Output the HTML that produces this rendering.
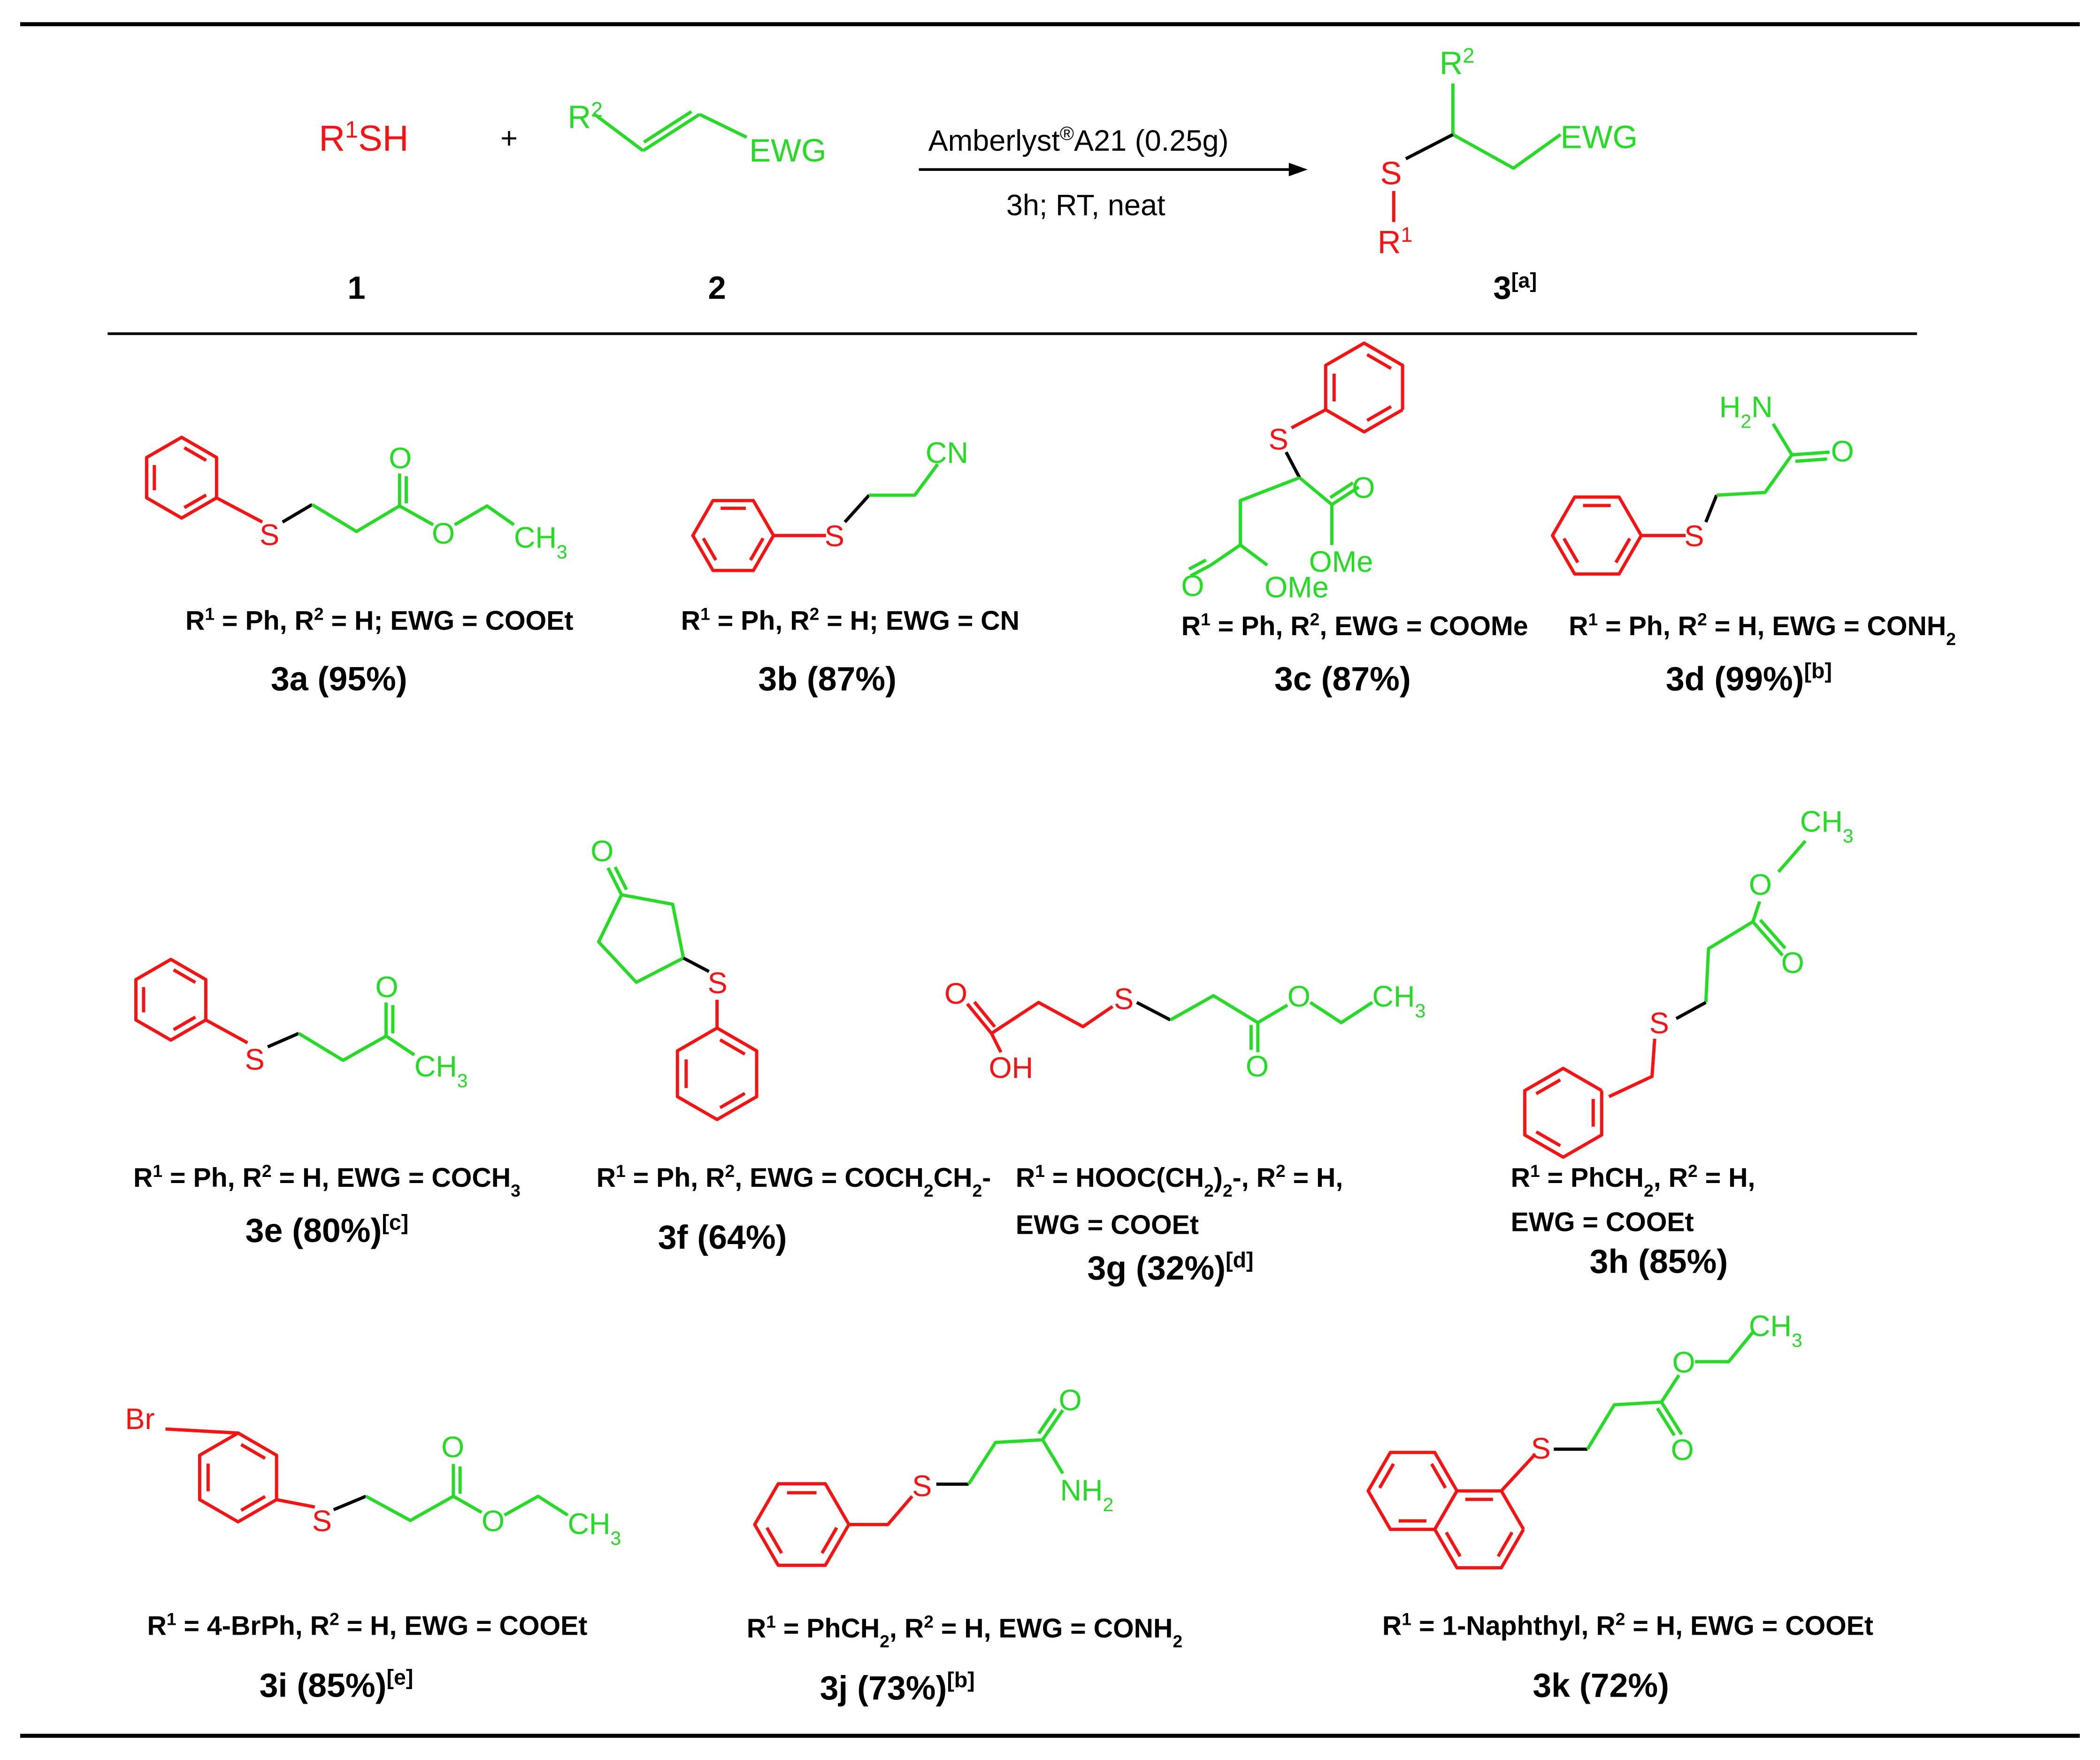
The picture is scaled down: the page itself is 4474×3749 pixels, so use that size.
<!DOCTYPE html>
<html><head><meta charset="utf-8"><style>
html,body{margin:0;padding:0;background:#fff;}
svg{display:block;}
text{font-family:"Liberation Sans",sans-serif;}
</style></head><body>
<svg id="s" xmlns="http://www.w3.org/2000/svg" width="4474" height="3749" viewBox="0 0 1561 1308" preserveAspectRatio="none"></svg>
<script>
const S=document.getElementById('s');
const R='#ff1010',G='#22dd22',K='#000';
let out='';
function L(pts,c,w){out+=`<polyline points="${pts.map(p=>p.join(',')).join(' ')}" fill="none" stroke="${c}" stroke-width="${w||2.4}" stroke-linejoin="round"/>`;}
function D(a,b,c,side){
  L([a,b],c);
  const dx=b[0]-a[0],dy=b[1]-a[1],len=Math.hypot(dx,dy);
  const nx=-dy/len*5*(side||1),ny=dx/len*5*(side||1);
  L([[a[0]+nx+dx*0.08,a[1]+ny+dy*0.08],[b[0]+nx-dx*0.08,b[1]+ny-dy*0.08]],c);}
function T(x,y,s,c,sz,anc,wt){out+=`<text x="${x}" y="${y}" fill="${c||K}" font-size="${sz||22}" text-anchor="${anc||'start'}" font-weight="${wt||'normal'}">${s}</text>`;}
function sup(s){return `<tspan baseline-shift="super" font-size="65%">${s}</tspan>`;}
function sub(s){return `<tspan baseline-shift="sub" font-size="65%">${s}</tspan>`;}
function ring(cx,cy,r,rot,c,d){
  const v=[];for(let k=0;k<6;k++){const a=(rot+60*k)*Math.PI/180;v.push([cx+r*Math.cos(a),cy+r*Math.sin(a)]);}
  L([...v,v[0]],c);
  (d||[0,2,4]).forEach(i=>{const a=v[i],b=v[(i+1)%6];const f=0.78;
    const p=[cx+(a[0]-cx)*f,cy+(a[1]-cy)*f],q=[cx+(b[0]-cx)*f,cy+(b[1]-cy)*f];
    L([[p[0]+(q[0]-p[0])*0.1,p[1]+(q[1]-p[1])*0.1],[q[0]-(q[0]-p[0])*0.1,q[1]-(q[1]-p[1])*0.1]],c);});
  return v;}
L([[15,18],[1546,18]],K,3);L([[80,248],[1425,248]],K,2);L([[15,1290],[1546,1290]],K,3);
T(237,112,'R'+sup('1')+'SH',R,27);
T(372,110,'+',K,22);
T(422,95,'R'+sup('2'),G,24);
L([[442,85],[478,112]],G);D([478,112],[520,85],G,-1);L([[520,85],[555,102]],G);
T(557,120,'EWG',G,24);
T(265,222,'1',K,24,'middle','bold');T(533,222,'2',K,24,'middle','bold');
L([[683,126],[962,126]],K,2);out+=`<polygon points="972,126,958,121,958,131" fill="#000"/>`;
T(690,112,'Amberlyst'+sup('®')+'A21 (0.25g)',K,22);
T(748,160,'3h; RT, neat',K,22);
T(1070,55,'R'+sup('2'),G,24);
L([[1080,62],[1080,100]],G);L([[1080,100],[1125,125],[1160,100]],G);T(1160,110,'EWG',G,24);
L([[1080,100],[1045,118]],K);T(1026,137,'S',R,24);L([[1036,142],[1036,165]],R);T(1024,188,'R'+sup('1'),R,24);
T(1110,222,'3'+sup('[a]'),K,24,'start','bold');
// 3a
let v=ring(135,355,30,30,R);
L([v[0],[195,388]],R);T(193,405,'S',R,22);L([[210,388],[232,375]],K);
L([[232,375],[265,395],[297,376]],G);D([297,376],[297,352],G);T(289,348,'O',G,22);
L([[297,376],[322,390]],G);T(321,404,'O',G,22);L([[338,390],[362,376],[382,390]],G);T(382,407,'CH'+sub('3'),G,22);
// 3b
v=ring(545,398,30,0,R);
L([v[0],[614,398]],R);T(613,406,'S',R,22);L([[628,388],[646,368]],K);
L([[646,368],[680,368],[697,345]],G);T(688,344,'CN',G,22);
// 3c
v=ring(1014,288,33,30,R);
T(943,334,'S',R,22);L([[960,318],v[2]],R);L([[956,336],[966,355]],K);
L([[966,355],[922,372],[922,405],[900,420]],G);D([900,420],[885,428],G);T(878,443,'O',G,22);L([[922,405],[942,420]],G);T(940,444,'OMe',G,22);
L([[966,355],[990,375]],G);D([990,375],[1010,362],G,-1);T(1005,370,'O',G,22);L([[990,375],[990,405]],G);T(973,425,'OMe',G,22);
// 3d
v=ring(1187,398,33,0,R);
L([v[0],[1253,398]],R);T(1252,406,'S',R,22);L([[1268,388],[1276,368]],K);
L([[1276,368],[1312,366],[1332,338]],G);D([1332,338],[1360,336],G);T(1361,343,'O',G,22);L([[1332,338],[1318,315]],G);
T(1278,310,'H'+sub('2')+'N',G,22);
// 3e
v=ring(127,743,30,30,R);
L([v[0],[184,775]],R);T(182,795,'S',R,22);L([[199,778],[222,768]],K);
L([[222,768],[255,788],[287,770]],G);D([287,770],[287,745],G);T(279,741,'O',G,22);L([[287,770],[308,784]],G);T(308,800,'CH'+sub('3'),G,22);
// 3f
L([[462,665],[445,700],[473,730],[508,712],[500,672],[462,665]],G);D([462,665],[452,645],G);T(439,640,'O',G,22);
L([[508,712],[527,722]],K);T(526,738,'S',R,22);
v=ring(533,798,34,-90,R);L([[533,743],v[0]],R);
// 3g
T(702,746,'O',R,22);T(735,801,'OH',R,22);
D([737,768],[719,746],R);L([[737,768],[744,782]],R);L([[737,768],[772,745],[805,763],[827,748]],R);
T(828,750,'S',R,22);L([[845,745],[870,758]],K);
L([[870,758],[902,740],[935,760]],G);D([935,760],[935,782],G);T(926,800,'O',G,22);
L([[935,760],[957,747]],G);T(957,748,'O',G,22);L([[974,745],[997,760],[1020,745]],G);T(1020,748,'CH'+sub('3'),G,22);
// 3h
T(1338,618,'CH'+sub('3'),G,22);L([[1342,625],[1322,648]],G);T(1300,665,'O',G,22);
L([[1308,670],[1303,685]],G);D([1303,685],[1325,710],G,-1);T(1324,723,'O',G,22);
L([[1303,685],[1270,705],[1268,745]],G);L([[1268,745],[1246,757]],K);
T(1226,768,'S',R,22);L([[1230,772],[1228,800],[1196,815]],R);
v=ring(1162,827,33,-30,R);
// 3i
v=ring(177,1098,33,30,R);
T(93,1062,'Br',R,22);L([[123,1062],v[4]],R);
L([v[0],[234,1120]],R);T(232,1138,'S',R,22);L([[248,1122],[272,1112]],K);
L([[272,1112],[305,1130],[337,1112]],G);D([337,1112],[337,1088],G);T(328,1083,'O',G,22);
L([[337,1112],[358,1124]],G);T(358,1138,'O',G,22);L([[375,1126],[400,1112],[422,1126]],G);T(422,1140,'CH'+sub('3'),G,22);
// 3j
v=ring(596,1133,35,0,R);
L([v[0],[660,1133],[678,1112]],R);T(678,1112,'S',R,22);L([[696,1103],[720,1103]],K);
L([[720,1103],[740,1072],[775,1070]],G);D([775,1070],[790,1048],G,-1);T(787,1048,'O',G,22);L([[775,1070],[790,1095]],G);
T(788,1115,'NH'+sub('2'),G,22);
// 3k naphthalene (diagonal fusion)
const rr=33,h=rr*Math.sqrt(3);
const lc=[1050,1108],rc=[1050+h*Math.cos(Math.PI/6),1108+h*Math.sin(Math.PI/6)];
ring(lc[0],lc[1],rr,0,R,[1,3,5]);v=ring(rc[0],rc[1],rr,0,R,[0,2,4]);
L([v[5],[1140,1082]],R);T(1138,1084,'S',R,22);L([[1155,1077],[1180,1077]],K);
L([[1180,1077],[1200,1044],[1235,1042]],G);D([1235,1042],[1250,1066],G);T(1242,1085,'O',G,22);
L([[1235,1042],[1248,1022]],G);T(1243,1020,'O',G,22);L([[1260,1012],[1285,1012],[1303,990]],G);T(1300,993,'CH'+sub('3'),G,22);
// labels
const B=(x,y,s,a,sz)=>T(x,y,s,K,sz||20,a||'middle','bold');
B(282,468,'R'+sup('1')+' = Ph, R'+sup('2')+' = H; EWG = COOEt');B(252,513,'3a (95%)','middle',25);
B(632,468,'R'+sup('1')+' = Ph, R'+sup('2')+' = H; EWG = CN');B(615,513,'3b (87%)','middle',25);
B(1007,472,'R'+sup('1')+' = Ph, R'+sup('2')+', EWG = COOMe');B(998,513,'3c (87%)','middle',25);
B(1310,472,'R'+sup('1')+' = Ph, R'+sup('2')+' = H, EWG = CONH'+sub('2'));B(1300,513,'3d (99%)'+sup('[b]'),'middle',25);
B(243,882,'R'+sup('1')+' = Ph, R'+sup('2')+' = H, EWG = COCH'+sub('3'));B(243,923,'3e (80%)'+sup('[c]'),'middle',25);
B(590,882,'R'+sup('1')+' = Ph, R'+sup('2')+', EWG = COCH'+sub('2')+'CH'+sub('2')+'-');B(537,928,'3f (64%)','middle',25);
B(755,882,'R'+sup('1')+' = HOOC(CH'+sub('2')+')'+sub('2')+'-, R'+sup('2')+' = H,','start');B(755,917,'EWG = COOEt','start');B(870,951,'3g (32%)'+sup('[d]'),'middle',25);
B(1123,882,'R'+sup('1')+' = PhCH'+sub('2')+', R'+sup('2')+' = H,','start');B(1123,915,'EWG = COOEt','start');B(1233,946,'3h (85%)','middle',25);
B(273,1215,'R'+sup('1')+' = 4-BrPh, R'+sup('2')+' = H, EWG = COOEt');B(250,1261,'3i (85%)'+sup('[e]'),'middle',25);
B(717,1217,'R'+sup('1')+' = PhCH'+sub('2')+', R'+sup('2')+' = H, EWG = CONH'+sub('2'));B(667,1263,'3j (73%)'+sup('[b]'),'middle',25);
B(1210,1215,'R'+sup('1')+' = 1-Naphthyl, R'+sup('2')+' = H, EWG = COOEt');B(1190,1261,'3k (72%)','middle',25);
S.innerHTML=out;
</script>
</body></html>
